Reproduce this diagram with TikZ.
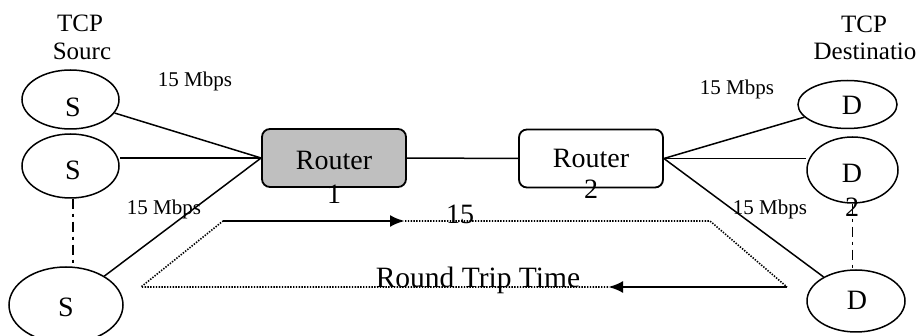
\documentclass[tikz,border=0pt]{standalone}
\usepackage{fontspec}
\setmainfont{Liberation Serif}
\usetikzlibrary{arrows.meta,shapes.geometric}
\begin{document}
\begin{tikzpicture}[x=1pt,y=-1pt,
  host/.style={draw,ellipse,line width=1.5pt,inner sep=0pt},
  routerbox/.style={draw,line width=1.8pt,rounded corners=8pt,inner sep=0pt,minimum width=144pt,minimum height=58pt},
  lbl/.style={inner sep=0pt,anchor=base,font=\fontsize{28}{28}\selectfont},
  small/.style={inner sep=0pt,anchor=base,font=\fontsize{21}{21}\selectfont},
  link/.style={line width=1.5pt},
  dd/.style={line width=1.5pt,dash pattern=on 10pt off 5pt on 3pt off 5pt},
  dots/.style={line width=1.6pt,dash pattern=on 1.4pt off 1.4pt},
  flow/.style={line width=2.8pt,-{Latex[length=15pt,width=12pt]}}
]
\useasboundingbox (0,0) rectangle (921,336);

% sources
\node[host,minimum width=97pt,minimum height=59pt] (s1) at (70.5,99.5) {};
\node[host,minimum width=97pt,minimum height=64pt] (s2) at (70.5,166) {};
\node[host,minimum width=114pt,minimum height=76pt] (s3) at (66,305) {};
\node[lbl] (s1t) at (73,117) {S};
\node[lbl] (s2t) at (73,180) {S};
\node[lbl] (s3t) at (66,317) {S};

% destinations
\node[host,minimum width=99pt,minimum height=48pt] (d1) at (847.5,104.5) {};
\node[host,minimum width=91pt,minimum height=66pt] (d2) at (852.5,170) {};
\node[host,minimum width=98pt,minimum height=62pt] (d3) at (856,301) {};
\node[lbl] (d1t) at (852,115) {D};
\node[lbl] (d2t) at (852,183) {D};
\node[lbl] (d2n) at (852,217) {2};
\node[lbl] (d3t) at (857,310) {D};

% routers
\node[routerbox,fill=black!25] (r1) at (334,158) {};
\node[routerbox] (r2) at (591,158.5) {};
\node[lbl] (r1t) at (334,170) {Router};
\node[lbl] (r1n) at (334,204) {1};
\node[lbl] (r2t) at (591,168) {Router};
\node[lbl] (r2n) at (591,199) {2};

% titles
\node[lbl,font=\fontsize{25}{25}\selectfont] (tcpl) at (80,32) {TCP};
\node[lbl,font=\fontsize{25}{25}\selectfont] (srcl) at (82,60) {Sourc};
\node[lbl,font=\fontsize{25}{25}\selectfont] (tcpr) at (864,33) {TCP};
\node[lbl,font=\fontsize{25}{25}\selectfont] (dstr) at (865,60) {Destinatio};

% rates
\node[small] (m1) at (195,87) {15 Mbps};
\node[small] (m2) at (164,215) {15 Mbps};
\node[small] (m3) at (737,95) {15 Mbps};
\node[small] (m4) at (770,215) {15 Mbps};

% links
\draw[link] (s1) -- (r1.west);
\draw[link] (r1.west) -- (r1.west -| s2.east);
\draw[link] (s3) -- (r1.west);
\draw[link] (r1) -- (r2);
\draw[link] (r2.east) -- (d1);
\draw[link] (r2.east) -- (r2.east -| d2.west);
\draw[link] (r2.east) -- (d3);
\draw[dd] (s2.south -| s2t) -- (s3.north -| s2t);
\draw[dd] (d2.south) -- (d3.north -| d2.south);

% round trip
\coordinate (a) at (223,221);
\coordinate (b) at (405,221);
\coordinate (c) at (710,221);
\coordinate (d) at (787,287);
\coordinate (e) at (608,287);
\coordinate (f) at (141,287);
\draw[dots] (b) -- (c) -- (d);
\draw[dots] (e) -- (f) -- (a);
\draw[flow] (a) -- (b);
\draw[flow] (d) -- (e);
\node[lbl,font=\fontsize{28}{28}\selectfont] (n15) at (460,224) {15};
\node[lbl,font=\fontsize{29.5}{29.5}\selectfont] (rtt) at (478,288) {Round Trip Time};
\end{tikzpicture}
\end{document}
